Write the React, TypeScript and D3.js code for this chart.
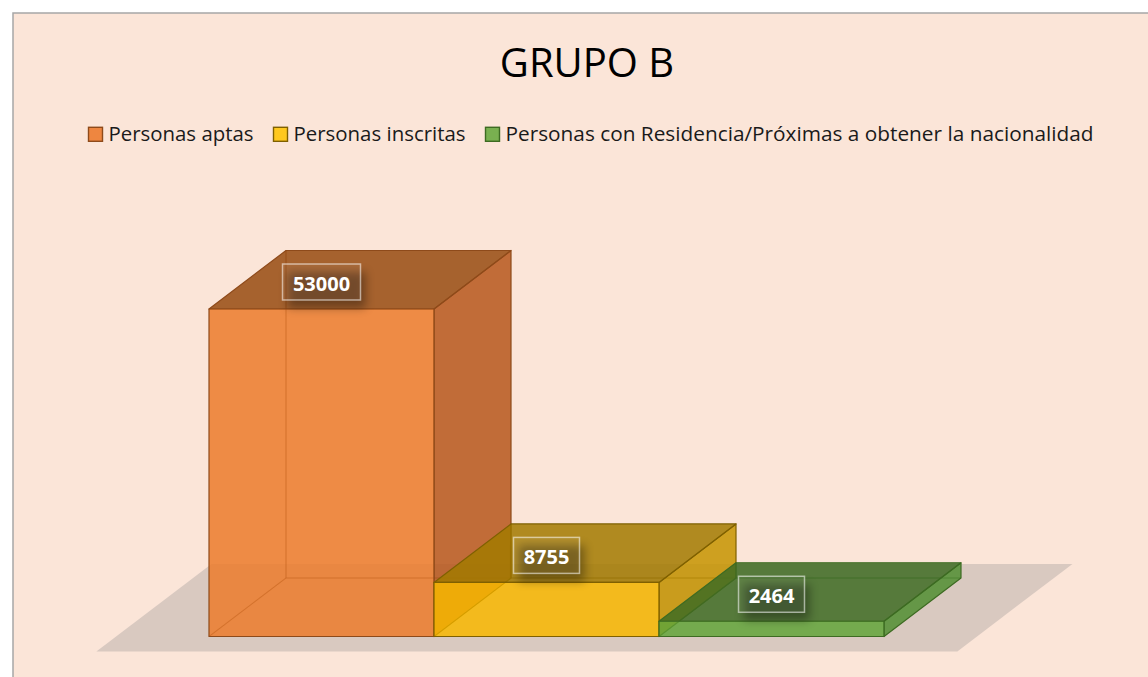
import React from "react";
import * as d3 from "d3";

const categories = [
  "Personas aptas",
  "Personas inscritas",
  "Personas con Residencia/Próximas a obtener la nacionalidad",
];
const values = [53000, 8755, 2464];
const valueLabels = ["53000", "8755", "2464"];
const title = "GRUPO B";

const frontColors = ["#EB7B2B", "#F7B700", "#62A53A"];
const sideColors = ["#B6571C", "#C59400", "#508E31"];
const topColors = ["#964B11", "#A27A00", "#3E6C23"];
const strokeColors = ["#8E4A1A", "#7F6000", "#3D6B22"];
const legendFill = ["#EE8640", "#FFC81E", "#79B050"];

const W = 1148;
const H = 677;
const DX = 77;
const DY = -58.5;
const ALPHA = 0.85;

export default function App() {
  const x = d3.scaleBand<string>().domain(categories).range([209, 884]).padding(0);
  const y = d3.scaleLinear().domain([0, 53000]).range([636.5, 309]);
  const base = y(0);

  const poly = (pts: [number, number][]) => {
    const p = d3.path();
    pts.forEach((pt, i) => (i === 0 ? p.moveTo(pt[0], pt[1]) : p.lineTo(pt[0], pt[1])));
    p.closePath();
    return p.toString();
  };
  const line = (pts: [number, number][]) => {
    const p = d3.path();
    pts.forEach((pt, i) => (i === 0 ? p.moveTo(pt[0], pt[1]) : p.lineTo(pt[0], pt[1])));
    return p.toString();
  };

  // floor
  const fx0 = 209 - 93;
  const fx1 = 884 + 93;
  const t0 = -0.255;
  const t1 = 1.24;
  const floor = poly([
    [fx0 + t0 * DX, base + t0 * DY],
    [fx1 + t0 * DX, base + t0 * DY],
    [fx1 + t1 * DX, base + t1 * DY],
    [fx0 + t1 * DX, base + t1 * DY],
  ]);

  // legend
  const legendLens = [145, 172, 588];
  let lx = 88.5;
  const legendItems = categories.map((c, i) => {
    const sx = lx;
    const tx = sx + 20;
    lx = tx + legendLens[i] + 20;
    return { c, sx, tx, len: legendLens[i], i };
  });

  return (
    <svg
      width={W}
      height={H}
      style={{ position: "absolute", left: 0, top: 0, display: "block" }}
      fontFamily="'Open Sans', sans-serif"
    >
      <defs>
        <filter id="lblShadow" x="-50%" y="-50%" width="200%" height="200%">
          <feGaussianBlur stdDeviation="5" />
        </filter>
      </defs>
      <rect x={0} y={0} width={W} height={H} fill="#ffffff" />
      <rect x={13} y={13} width={W} height={H} fill="#FBE5D8" stroke="#A6A6A6" strokeWidth={1.5} />

      <text x={587} y={77} fontSize={40} textAnchor="middle" fill="#000">
        {title}
      </text>

      {legendItems.map((it) => (
        <g key={it.c}>
          <rect
            x={it.sx}
            y={127.3}
            width={14}
            height={14}
            fill={legendFill[it.i]}
            stroke={strokeColors[it.i]}
            strokeWidth={1.4}
          />
          <text
            x={it.tx}
            y={141}
            fontSize={19.5}
            fill="#1a1a1a"
            textLength={it.len}
            lengthAdjust="spacingAndGlyphs"
          >
            {it.c}
          </text>
        </g>
      ))}

      <path d={floor} fill="#D9C9C0" />

      {categories.map((c, i) => {
        const x0 = x(c)!;
        const x1 = x0 + x.bandwidth();
        const yt = y(values[i]);
        const fr = poly([[x0, yt], [x1, yt], [x1, base], [x0, base]]);
        const side = poly([[x1, yt], [x1 + DX, yt + DY], [x1 + DX, base + DY], [x1, base]]);
        const top = poly([[x0, yt], [x0 + DX, yt + DY], [x1 + DX, yt + DY], [x1, yt]]);
        const inner = [
          line([[x0 + DX, yt + DY], [x0 + DX, base + DY], [x1 + DX, base + DY]]),
          line([[x0, base], [x0 + DX, base + DY]]),
        ];
        const sc = strokeColors[i];
        return (
          <g key={c}>
            <path d={inner[0]} stroke={sc} strokeWidth={1.2} fill="none" opacity={0.6} />
            <path d={inner[1]} stroke={sc} strokeWidth={1.2} fill="none" opacity={0.6} />
            <path d={side} fill={sideColors[i]} fillOpacity={ALPHA} stroke={sc} strokeWidth={1.2} strokeLinejoin="round" />
            <path d={top} fill={topColors[i]} fillOpacity={ALPHA} stroke={sc} strokeWidth={1.2} strokeLinejoin="round" />
            <path d={fr} fill={frontColors[i]} fillOpacity={ALPHA} stroke={sc} strokeWidth={1.2} strokeLinejoin="round" />
            <path d={inner[0]} stroke={sc} strokeWidth={1} fill="none" opacity={0.18} />
            <path d={inner[1]} stroke={sc} strokeWidth={1} fill="none" opacity={0.18} />
          </g>
        );
      })}

      {categories.map((c, i) => {
        const cx = x(c)! + x.bandwidth() / 2;
        const cy = y(values[i]) - 27;
        const bw = valueLabels[i].length * 12 + 18;
        const bh = 36;
        return (
          <g key={"lbl" + c}>
            <rect
              x={cx - bw / 2 + 5}
              y={cy - bh / 2 + 8}
              width={bw}
              height={bh}
              fill="#000"
              opacity={0.35}
              filter="url(#lblShadow)"
            />
            <rect
              x={cx - bw / 2}
              y={cy - bh / 2}
              width={bw}
              height={bh}
              fill="#ffffff"
              fillOpacity={0.06}
              stroke="#ffffff"
              strokeOpacity={0.55}
              strokeWidth={1.5}
            />
            <text x={cx} y={cy + 9} fontSize={20} fontWeight="bold" fill="#ffffff" textAnchor="middle">
              {valueLabels[i]}
            </text>
          </g>
        );
      })}
    </svg>
  );
}
